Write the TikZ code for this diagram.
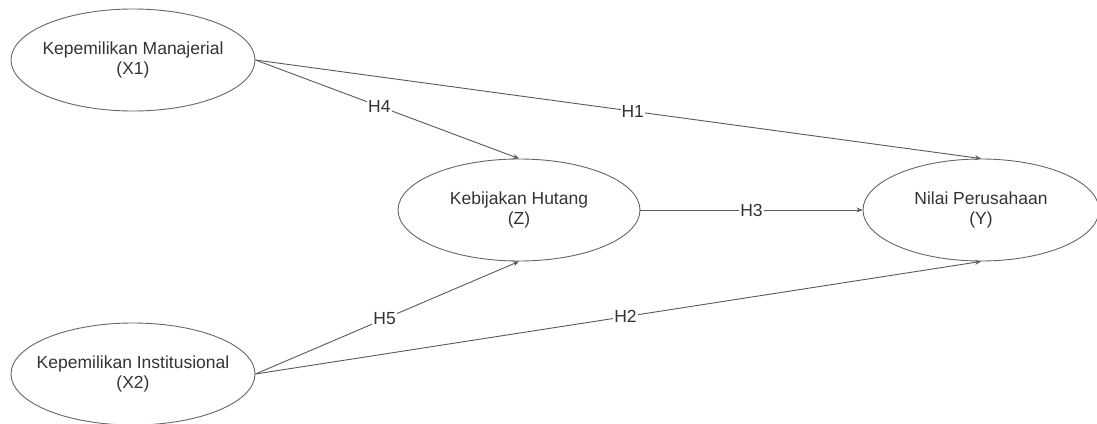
\documentclass[tikz,border=0pt]{standalone}
\usepackage{fontspec}
\setmainfont{Liberation Sans}
\usetikzlibrary{arrows.meta,shapes.geometric}
\begin{document}
\begin{tikzpicture}[x=1pt,y=-1pt,
  var/.style={draw=black!60,line width=0.9pt,ellipse,minimum width=#1,minimum height=102,inner xsep=-40pt,inner ysep=-10pt,align=center,font=\fontsize{17.5}{20}\selectfont,text=black!80},
  var/.default=244,
  link/.style={draw=black!65,line width=0.9pt,-{Stealth[length=6pt,width=5pt]}},
  lab/.style={fill=white,inner sep=1pt,font=\fontsize{17.5}{20}\selectfont,text=black!80}]
\useasboundingbox (0,0) rectangle (1097,423);
\node[var] (x1) at (133,60) {Kepemilikan Manajerial\\(X1)};
\node[var] (x2) at (133,374) {Kepemilikan Institusional\\(X2)};
\node[var=242] (z) at (519,210) {Kebijakan Hutang\\(Z)};
\node[var=236] (y) at (981,210) {Nilai Perusahaan\\(Y)};
\draw[link] (x1.east) -- node[lab,pos=0.47] {H4} (z.north);
\draw[link] (x1.east) -- node[lab,pos=0.52] {H1} (y.north);
\draw[link] (z.east) -- node[lab] {H3} (y.west);
\draw[link] (x2.east) -- node[lab,pos=0.49] {H5} (z.south);
\draw[link] (x2.east) -- node[lab,pos=0.51] {H2} (y.south);
\end{tikzpicture}
\end{document}
